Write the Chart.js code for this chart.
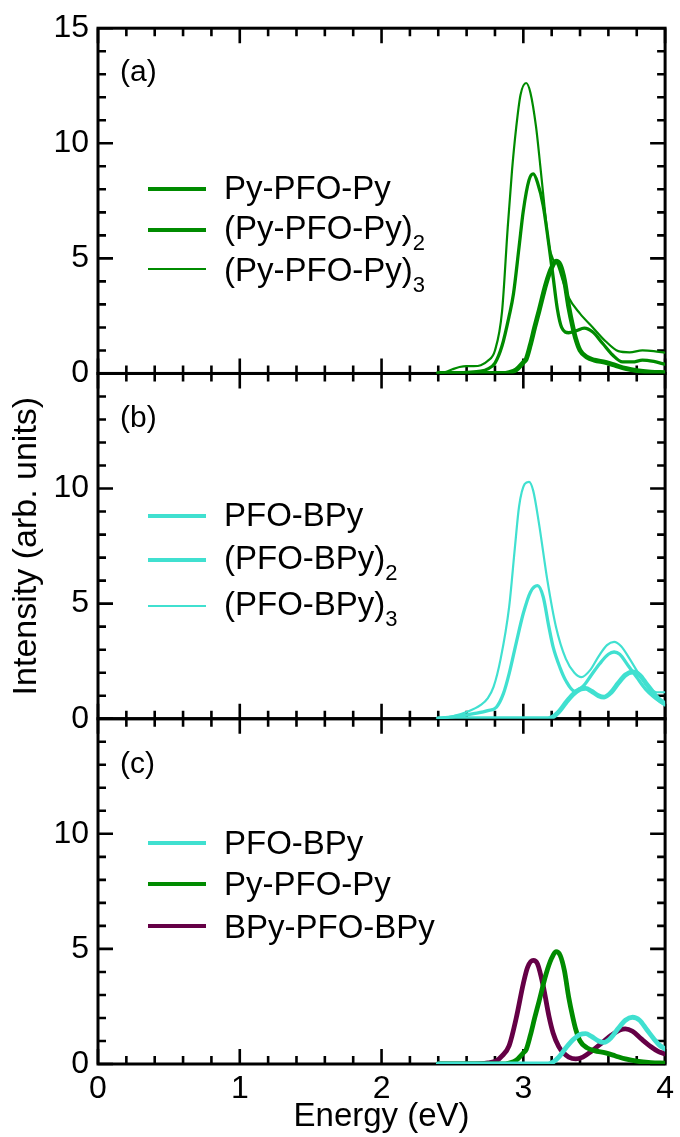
<!DOCTYPE html>
<html>
<head>
<meta charset="utf-8">
<script src="https://cdn.jsdelivr.net/npm/chart.js@4.4.1/dist/chart.umd.min.js"></script>
<style>
  html, body { margin:0; padding:0; background:#fff; }
  #wrap { position:relative; width:680px; height:1137px; overflow:hidden; }
  #c { position:absolute; left:0; top:0; }
  .lgline { position:absolute; }
  .lgtext { position:absolute; white-space:nowrap; color:#000;
            font-family:'Liberation Sans', Arial, Helvetica, sans-serif; }
  .lgtext sub { vertical-align:-11px; font-size:22px; line-height:0; }
  .plabel { position:absolute; color:#000; font-size:30px; line-height:30px;
            font-family:'Liberation Sans', Arial, Helvetica, sans-serif; }
</style>
</head>
<body>
<div id="wrap">
  <canvas id="c" width="680" height="1137"></canvas>
</div>
<script>
// ---------- axis ticks ----------
const xTickValues = [0, 1, 2, 3, 4];
const yTickValues = [0, 5, 10, 15];
const panelLabels = ['(a)', '(b)', '(c)'];

// ---------- Py-PFO-Py family (green) ----------
const pyMonoE = [2.40,2.85,2.90,2.95,3.00,3.02,3.05,3.08,3.11,3.16,3.20,3.23,3.26,3.29,3.32,3.35,3.37,3.40,3.45,3.50,3.58,3.65,3.72,3.80,3.90,4.00];
const pyMonoI = [0,0,0.04,0.16,0.48,0.62,1.25,2.0,2.7,3.9,4.6,4.88,4.72,4.05,2.9,2.0,1.5,1.0,0.7,0.58,0.48,0.35,0.22,0.12,0.06,0.04];

const pyDimE = [2.40,2.50,2.60,2.70,2.75,2.80,2.85,2.90,2.93,2.97,3.00,3.04,3.07,3.10,3.14,3.18,3.21,3.24,3.27,3.32,3.37,3.43,3.49,3.56,3.63,3.70,3.77,3.84,3.92,4.00];
const pyDimI = [0,0.02,0.05,0.1,0.2,0.45,1.2,2.5,3.44,5.5,7.07,8.4,8.67,8.3,7.3,5.6,4.2,2.8,2.0,1.77,1.85,1.97,1.8,1.3,0.8,0.5,0.5,0.58,0.52,0.4];

const pyTriE = [2.40,2.45,2.50,2.55,2.60,2.65,2.70,2.75,2.80,2.85,2.89,2.92,2.95,2.98,3.02,3.05,3.09,3.12,3.14,3.18,3.21,3.24,3.28,3.32,3.40,3.49,3.58,3.67,3.75,3.84,3.92,4.00];
const pyTriI = [0,0.06,0.18,0.28,0.32,0.32,0.36,0.55,1.0,2.7,6.35,8.8,10.7,12.1,12.62,12.2,10.7,9.0,7.8,5.6,4.95,4.75,4.0,3.3,2.6,2.0,1.4,0.97,0.92,1.0,0.97,0.9];

// ---------- PFO-BPy family (turquoise) ----------
const bpMonoE = [2.40,3.15,3.20,3.25,3.30,3.35,3.40,3.44,3.48,3.53,3.57,3.62,3.67,3.72,3.77,3.82,3.87,3.92,3.96,4.00];
const bpMonoI = [0,0,0.05,0.3,0.7,1.05,1.28,1.32,1.2,1.0,0.94,1.15,1.55,1.9,2.03,1.9,1.5,1.1,0.82,0.65];

const bpDimE = [2.40,2.45,2.55,2.65,2.75,2.81,2.86,2.90,2.95,3.00,3.05,3.10,3.14,3.18,3.21,3.26,3.30,3.36,3.42,3.48,3.54,3.60,3.64,3.68,3.74,3.80,3.86,3.92,4.00];
const bpDimI = [0,0.05,0.12,0.22,0.35,0.5,1.1,1.96,3.3,4.58,5.5,5.78,5.3,4.0,3.12,2.2,1.65,1.2,1.4,1.9,2.4,2.8,2.9,2.8,2.3,1.8,1.3,0.95,0.6];

const bpTriE = [2.40,2.50,2.60,2.70,2.75,2.79,2.84,2.90,2.94,2.97,3.01,3.04,3.07,3.11,3.17,3.23,3.30,3.36,3.41,3.47,3.53,3.59,3.64,3.69,3.75,3.82,3.88,3.94,4.00];
const bpTriI = [0,0.1,0.29,0.6,0.9,1.38,2.6,4.86,7.4,9.22,10.2,10.29,9.9,8.5,6.0,4.0,2.6,2.0,1.81,2.1,2.7,3.2,3.34,3.15,2.6,1.9,1.4,1.15,1.15];

// ---------- BPy-PFO-BPy (maroon) ----------
const dbE = [2.40,2.70,2.75,2.81,2.85,2.90,2.95,3.00,3.03,3.07,3.10,3.14,3.18,3.21,3.25,3.28,3.32,3.37,3.42,3.48,3.55,3.62,3.68,3.72,3.77,3.83,3.90,3.95,4.00];
const dbI = [0,0.02,0.05,0.14,0.35,0.8,2.0,3.5,4.2,4.5,4.35,3.4,2.1,1.35,0.75,0.5,0.3,0.22,0.3,0.55,0.9,1.25,1.48,1.53,1.42,1.1,0.75,0.55,0.44];

// ---------- series names ----------
const namesA = [['Py-PFO-Py',''],['(Py-PFO-Py)','2'],['(Py-PFO-Py)','3']];
const namesB = [['PFO-BPy',''],['(PFO-BPy)','2'],['(PFO-BPy)','3']];
const namesC = [['PFO-BPy',''],['Py-PFO-Py',''],['BPy-PFO-BPy','']];

const GREEN = '#008b00', TURQ = '#40e0d0', MAROON = '#650046';
const W_THICK = 4.8, W_MED = 3.3, W_THIN = 2.2;
const FONT = "'Liberation Sans', Arial, Helvetica, sans-serif";

function pts(E, I) { return E.map((e, i) => ({x: e, y: I[i]})); }
function ds(label, E, I, color, width, axis) {
  return { label, data: pts(E, I), borderColor: color, borderWidth: width, yAxisID: axis,
           pointRadius: 0, fill: false, cubicInterpolationMode: 'monotone', borderJoinStyle: 'round', borderCapStyle: 'round' };
}
const subTxt = n => n[0] + (n[1] === '2' ? '\u2082' : n[1] === '3' ? '\u2083' : '');

// panel spec for legends (style/positions)
const panels = [
  { axis: 'ya', names: namesA, colors: [GREEN, GREEN, GREEN], widths: [W_THICK, W_MED, W_THIN],
    lineY: [189, 230, 269], textY: [187, 227, 269], labelTop: 56 },
  { axis: 'yb', names: namesB, colors: [TURQ, TURQ, TURQ], widths: [W_THICK, W_MED, W_THIN],
    lineY: [516, 560, 606], textY: [514, 557, 603], labelTop: 402 },
  { axis: 'yc', names: namesC, colors: [TURQ, GREEN, MAROON], widths: [W_THICK, W_THICK, W_THICK],
    lineY: [843, 884, 926], textY: [842, 883, 926], labelTop: 748 }
];

const datasets = [
  ds(subTxt(namesA[0]), pyMonoE, pyMonoI, GREEN, W_THICK, 'ya'),
  ds(subTxt(namesA[1]), pyDimE, pyDimI, GREEN, W_MED, 'ya'),
  ds(subTxt(namesA[2]), pyTriE, pyTriI, GREEN, W_THIN, 'ya'),
  ds(subTxt(namesB[0]), bpMonoE, bpMonoI, TURQ, W_THICK, 'yb'),
  ds(subTxt(namesB[1]), bpDimE, bpDimI, TURQ, W_MED, 'yb'),
  ds(subTxt(namesB[2]), bpTriE, bpTriI, TURQ, W_THIN, 'yb'),
  ds(subTxt(namesC[0]), bpMonoE, bpMonoI, TURQ, W_THICK, 'yc'),
  ds(subTxt(namesC[1]), pyMonoE, pyMonoI, GREEN, W_THICK, 'yc'),
  ds(subTxt(namesC[2]), dbE, dbI, MAROON, W_THICK, 'yc')
];

// frames with inward major/minor ticks on all four sides of each panel
const framePlugin = {
  id: 'frames',
  beforeDatasetsDraw(chart) {
    const {ctx, scales} = chart;
    const xs = scales.x;
    const xMin = xTickValues[0], xMax = xTickValues[xTickValues.length - 1];
    const yMin = yTickValues[0], yMax = yTickValues[yTickValues.length - 1];
    const L = xs.getPixelForValue(xMin), R = xs.getPixelForValue(xMax);
    ctx.save();
    ctx.strokeStyle = '#000';
    ['ya', 'yb', 'yc'].forEach(id => {
      const ys = scales[id];
      const T = ys.getPixelForValue(yMax), B = ys.getPixelForValue(yMin);
      ctx.lineWidth = 2.6;
      ctx.beginPath();
      for (let i = 0; i <= 20; i++) {
        const v = xMin + i * 0.2;
        const px = xs.getPixelForValue(v);
        const len = (i % 5 === 0) ? 15 : 8;
        ctx.moveTo(px, B); ctx.lineTo(px, B - len);
        ctx.moveTo(px, T); ctx.lineTo(px, T + len);
      }
      for (let v = yMin; v <= yMax; v++) {
        const py = ys.getPixelForValue(v);
        const len = (v % 5 === 0) ? 15 : 8;
        ctx.moveTo(L, py); ctx.lineTo(L + len, py);
        ctx.moveTo(R, py); ctx.lineTo(R - len, py);
      }
      ctx.stroke();
      ctx.lineWidth = 3;
      ctx.strokeRect(L, T, R - L, B - T);
    });
    ctx.restore();
  }
};

function yAxis(weight, showTop, title) {
  return {
    type: 'linear', position: 'left', stack: 'panels', stackWeight: 1, weight,
    min: 0, max: 15,
    afterBuildTicks: s => { s.ticks = yTickValues.map(v => ({value: v})); },
    ticks: { font: {size: 32, family: FONT}, color: '#000', padding: 9,
             callback: v => (v === 15 && !showTop) ? '' : String(v) },
    grid: { display: false, drawTicks: false },
    border: { display: false },
    title: title ? { display: true, text: title, color: '#000',
                     font: {size: 34, family: FONT, lineHeight: 1.2}, padding: {top: 6, bottom: 0} }
                 : { display: false },
    afterFit: s => { s.width = 98; }
  };
}

Chart.defaults.font.family = FONT;
Chart.defaults.color = '#000';

const chart = new Chart(document.getElementById('c'), {
  type: 'line',
  data: { datasets },
  options: {
    responsive: false,
    animation: false,
    layout: { padding: { top: 28, right: 11, left: 0, bottom: 0 } },
    plugins: { legend: { display: false }, tooltip: { enabled: false } },
    scales: {
      x: {
        type: 'linear', position: 'bottom', min: 0, max: 4,
        afterBuildTicks: s => { s.ticks = xTickValues.map(v => ({value: v})); },
        ticks: { font: {size: 32, family: FONT}, color: '#000', padding: 6, maxRotation: 0 },
        grid: { display: false, drawTicks: false },
        border: { display: false },
        title: { display: true, text: 'Energy (eV)', color: '#000',
                 font: {size: 33, family: FONT, lineHeight: 1.2}, padding: {top: 0, bottom: 0} },
        afterFit: s => { s.height = 73; }
      },
      ya: yAxis(3, true, null),
      yb: yAxis(2, false, 'Intensity (arb. units)'),
      yc: yAxis(1, false, null)
    }
  },
  plugins: [framePlugin]
});

// HTML legends & panel labels
const wrap = document.getElementById('wrap');
const LEG_X0 = 148, LEG_X1 = 206, TXT_X = 224, FS = 33;
panels.forEach((p, k) => {
  p.names.forEach((n, i) => {
    const ln = document.createElement('div');
    ln.className = 'lgline';
    ln.style.left = LEG_X0 + 'px';
    ln.style.width = (LEG_X1 - LEG_X0) + 'px';
    ln.style.height = p.widths[i] + 'px';
    ln.style.top = (p.lineY[i] - p.widths[i] / 2) + 'px';
    ln.style.background = p.colors[i];
    wrap.appendChild(ln);
    const tx = document.createElement('div');
    tx.className = 'lgtext';
    tx.style.left = TXT_X + 'px';
    tx.style.fontSize = FS + 'px';
    tx.style.lineHeight = FS + 'px';
    tx.style.top = (p.textY[i] - 0.4885 * FS) + 'px';
    tx.textContent = n[0];
    if (n[1]) { const s = document.createElement('sub'); s.textContent = n[1]; tx.appendChild(s); }
    wrap.appendChild(tx);
  });
  const pl = document.createElement('div');
  pl.className = 'plabel';
  pl.style.left = '120px';
  pl.style.top = p.labelTop + 'px';
  pl.textContent = panelLabels[k];
  wrap.appendChild(pl);
});
</script>
</body>
</html>
